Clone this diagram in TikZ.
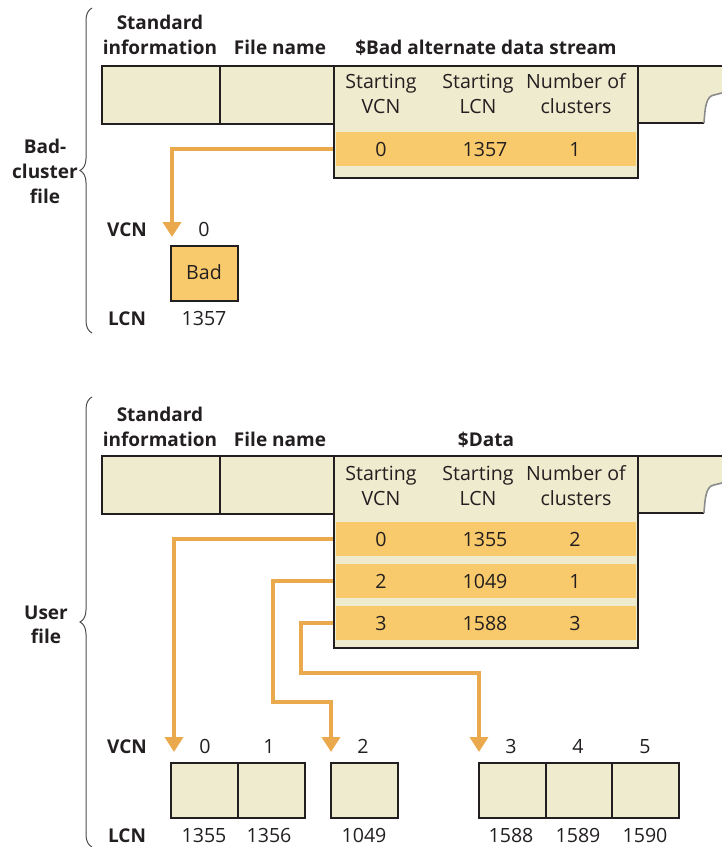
\documentclass[tikz,border=0pt]{standalone}
\usepackage{fontspec}
\setmainfont{Open Sans}
\usetikzlibrary{arrows.meta,decorations.pathreplacing}
\definecolor{beige}{HTML}{EFEBCE}
\definecolor{rowor}{HTML}{F9CA6B}
\definecolor{conn}{HTML}{EAA94D}
\definecolor{ink}{HTML}{231F20}
\definecolor{tear}{HTML}{8C8C8C}
\begin{document}
\begin{tikzpicture}[x=1pt,y=-1pt,
  every node/.style={inner sep=0pt,text=ink,font=\fontsize{19.6}{25}\selectfont},
  t/.style={anchor=base},
  b/.style={anchor=base,font=\fontsize{19}{25}\selectfont\bfseries},
  lbl/.style={anchor=base,font=\fontsize{19}{25}\selectfont\bfseries},
  cell/.style={draw=ink,fill=beige,line width=2pt},
  badcell/.style={draw=ink,fill=rowor,line width=2pt},
  runrow/.style={fill=rowor,minimum width=300pt,minimum height=34pt},
  conn/.style={draw=conn,line width=4.5pt,-{Triangle[width=18pt,length=15pt]}},
  bracestyle/.style={draw=ink!80,line width=1pt,decorate,decoration={brace,amplitude=12pt}},
  tearline/.style={draw=tear,line width=1.6pt}]
\useasboundingbox (0,0) rectangle (722,847);

% ================= Bad-cluster file =================
\draw[bracestyle] (92,333) -- (92,8);
\node[lbl] (bc1) at (45,153) {Bad-};
\node[lbl] (bc2) at (45,178) {cluster};
\node[lbl] (bc3) at (45,203) {file};

\node[b] (h1a) at (160,29) {Standard};
\node[b] (h1b) at (160,54) {information};
\node[b] (h1c) at (280,54) {File name};
\node[b] (h1d) at (486,54) {\$Bad alternate data stream};

\node[cell,minimum width=118pt,minimum height=58pt] (c1a) at (161,95) {};
\node[cell,minimum width=114pt,minimum height=58pt] (c1b) at (277,95) {};

% torn right part
\fill[beige] (638,66) -- (722,66) -- (722,93) -- (714,95) .. controls (706,96) and (705,108) .. (704,123) -- (638,123) -- cycle;
\draw[ink,line width=2pt] (638,66) -- (722,66);
\draw[ink,line width=2pt] (638,123) -- (704,123);
\draw[tearline] (722,93) -- (714,95) .. controls (706,96) and (705,108) .. (704,123);

% connector
\coordinate (bt) at (172,237);
\node[runrow] (br) at (486,149) {};
\draw[conn] (br.west) -| (bt);

\node[cell,minimum width=304pt,minimum height=112pt] (col1) at (486,122) {};
\node[runrow] (br2) at (486,149) {};
\node[t] (s1) at (381,88) {Starting};
\node[t] (s2) at (381,113) {VCN};
\node[t] (s3) at (478,88) {Starting};
\node[t] (s4) at (478,113) {LCN};
\node[t] (s5) at (576,88) {Number of};
\node[t] (s6) at (576,113) {clusters};
\node[t] (v1) at (381,156) {0};
\node[t] (v2) at (485,156) {1357};
\node[t] (v3) at (575,156) {1};

\node[lbl] (bv) at (127,236) {VCN};
\node[t] (bv0) at (204,236) {0};
\node[badcell,minimum width=67pt,minimum height=55pt] (badbox) at (204.5,273.5) {};
\node[t] (badtxt) at (204,279) {Bad};
\node[lbl] (bl) at (127,325) {LCN};
\node[t] (bl0) at (204,325) {1357};

% ================= User file =================
\draw[bracestyle] (92,847) -- (92,397);
\node[lbl] (uf1) at (46,619) {User};
\node[lbl] (uf2) at (46,643) {file};

\node[b] (h2a) at (160,421) {Standard};
\node[b] (h2b) at (160,446) {information};
\node[b] (h2c) at (280,446) {File name};
\node[b] (h2d) at (486,446) {\$Data};

\node[cell,minimum width=118pt,minimum height=58pt] (c2a) at (161,485) {};
\node[cell,minimum width=114pt,minimum height=58pt] (c2b) at (277,485) {};

\fill[beige] (638,456) -- (722,456) -- (722,483) -- (714,485) .. controls (706,486) and (705,498) .. (704,513) -- (638,513) -- cycle;
\draw[ink,line width=2pt] (638,456) -- (722,456);
\draw[ink,line width=2pt] (638,513) -- (704,513);
\draw[tearline] (722,483) -- (714,485) .. controls (706,486) and (705,498) .. (704,513);

\coordinate (t0) at (174,752);
\coordinate (t2) at (331,752);
\coordinate (t3) at (479,752);
\coordinate (k2) at (273,702);
\coordinate (k3) at (301,673);
\node[runrow] (u1) at (486,539) {};
\node[runrow] (u2) at (486,581) {};
\node[runrow] (u3) at (486,623) {};
\draw[conn] (u1.west) -| (t0);
\draw[conn] (u2.west) -| (k2) -| (t2);
\draw[conn] (u3.west) -| (k3) -| (t3);

\node[cell,minimum width=304pt,minimum height=192pt] (col2) at (486,552) {};
\node[runrow] (u1b) at (486,539) {};
\node[runrow] (u2b) at (486,581) {};
\node[runrow] (u3b) at (486,623) {};
\node[t] (s7) at (381,480) {Starting};
\node[t] (s8) at (381,505) {VCN};
\node[t] (s9) at (478,480) {Starting};
\node[t] (s10) at (478,505) {LCN};
\node[t] (s11) at (576,480) {Number of};
\node[t] (s12) at (576,505) {clusters};
\node[t] (r1a) at (381,546) {0};
\node[t] (r1b) at (485,546) {1355};
\node[t] (r1c) at (575,546) {2};
\node[t] (r2a) at (381,588) {2};
\node[t] (r2b) at (485,588) {1049};
\node[t] (r2c) at (575,588) {1};
\node[t] (r3a) at (381,630) {3};
\node[t] (r3b) at (485,630) {1588};
\node[t] (r3c) at (575,630) {3};

\node[lbl] (uv) at (127,753) {VCN};
\node[t] (uv0) at (205,753) {0};
\node[t] (uv1) at (269,753) {1};
\node[t] (uv2) at (363,753) {2};
\node[t] (uv3) at (511,753) {3};
\node[t] (uv4) at (578,753) {4};
\node[t] (uv5) at (645,753) {5};

\node[cell,minimum width=67pt,minimum height=55pt] (k0) at (204.5,790.5) {};
\node[cell,minimum width=67pt,minimum height=55pt] (k1) at (271.5,790.5) {};
\node[cell,minimum width=67pt,minimum height=55pt] (kk2) at (364.5,790.5) {};
\node[cell,minimum width=67pt,minimum height=55pt] (kk3) at (512.5,790.5) {};
\node[cell,minimum width=66pt,minimum height=55pt] (kk4) at (579,790.5) {};
\node[cell,minimum width=67pt,minimum height=55pt] (kk5) at (645.5,790.5) {};

\node[lbl] (ul) at (127,842) {LCN};
\node[t] (ul0) at (204,842) {1355};
\node[t] (ul1) at (269,842) {1356};
\node[t] (ul2) at (364,842) {1049};
\node[t] (ul3) at (511,842) {1588};
\node[t] (ul4) at (578,842) {1589};
\node[t] (ul5) at (645,842) {1590};
\end{tikzpicture}
\end{document}
